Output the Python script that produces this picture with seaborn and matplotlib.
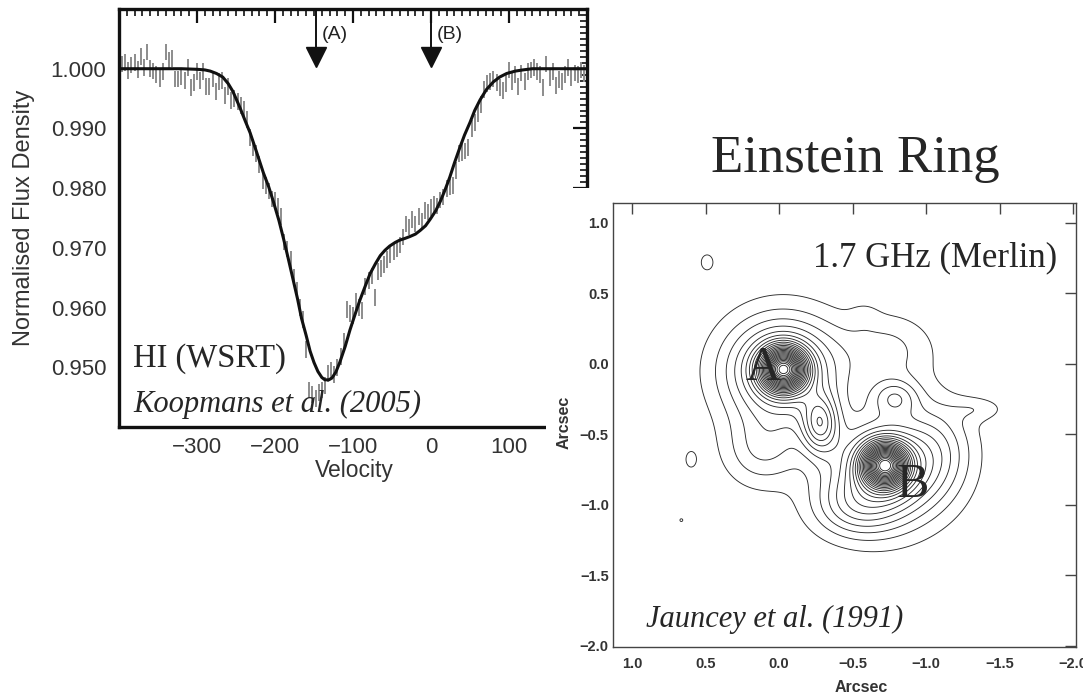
import numpy as np
import pandas as pd
import matplotlib
matplotlib.use("Agg")
import matplotlib.pyplot as plt
import seaborn as sns
from matplotlib.patches import Rectangle
from matplotlib.ticker import MultipleLocator, FormatStrFormatter, FuncFormatter

# ---------------- HI absorption spectrum (Koopmans et al. 2005) ----------------
velocity = [-396, -392, -388, -384, -380, -376, -372, -368, -364, -360,
            -356, -352, -348, -344, -340, -336, -332, -328, -324, -320,
            -316, -312, -308, -304, -300, -296, -292, -288, -284, -280,
            -276, -272, -268, -264, -260, -256, -252, -248, -244, -240,
            -236, -232, -228, -224, -220, -216, -212, -208, -204, -200,
            -196, -192, -188, -184, -180, -176, -172, -168, -164, -160,
            -156, -152, -148, -144, -140, -136, -132, -128, -124, -120,
            -116, -112, -108, -104, -100, -96, -92, -88, -84, -80,
            -76, -72, -68, -64, -60, -56, -52, -48, -44, -40,
            -36, -32, -28, -24, -20, -16, -12, -8, -4, 0,
            4, 8, 12, 16, 20, 24, 28, 32, 36, 40,
            44, 48, 52, 56, 60, 64, 68, 72, 76, 80,
            84, 88, 92, 96, 100, 104, 108, 112, 116, 120,
            124, 128, 132, 136, 140, 144, 148, 152, 156, 160,
            164, 168, 172, 176, 180, 184, 188, 192, 196]
flux = [1.0008, 1.0010, 0.9997, 1.0006, 1.0010, 0.9999, 1.0020, 1.0002, 1.0028, 1.0000,
        0.9996, 0.9990, 0.9984, 0.9995, 1.0028, 1.0014, 1.0017, 0.9983, 0.9983, 0.9986,
        0.9980, 1.0002, 0.9968, 0.9977, 0.9995, 0.9980, 0.9995, 0.9970, 0.9970, 0.9983,
        0.9962, 0.9978, 0.9980, 0.9955, 0.9970, 0.9947, 0.9950, 0.9945, 0.9938, 0.9932,
        0.9915, 0.9885, 0.9868, 0.9858, 0.9840, 0.9812, 0.9805, 0.9795, 0.9782, 0.9780,
        0.9770, 0.9752, 0.9710, 0.9698, 0.9680, 0.9650, 0.9628, 0.9600, 0.9580, 0.9530,
        0.9462, 0.9455, 0.9448, 0.9458, 0.9462, 0.9470, 0.9490, 0.9495, 0.9488, 0.9500,
        0.9518, 0.9543, 0.9597, 0.9590, 0.9587, 0.9610, 0.9600, 0.9595, 0.9635, 0.9645,
        0.9653, 0.9617, 0.9660, 0.9665, 0.9672, 0.9680, 0.9688, 0.9693, 0.9698, 0.9705,
        0.9718, 0.9740, 0.9735, 0.9748, 0.9740, 0.9753, 0.9745, 0.9762, 0.9760, 0.9768,
        0.9773, 0.9770, 0.9780, 0.9785, 0.9800, 0.9802, 0.9805, 0.9830, 0.9858, 0.9860,
        0.9862, 0.9868, 0.9900, 0.9910, 0.9925, 0.9940, 0.9965, 0.9975, 0.9978, 0.9983,
        0.9977, 0.9968, 0.9963, 0.9975, 0.9998, 0.9979, 0.9990, 0.9970, 0.9993, 0.9979,
        0.9995, 0.9998, 1.0002, 0.9995, 0.9990, 0.9968, 1.0008, 0.9985, 0.9995, 0.9972,
        0.9982, 0.9979, 0.9990, 1.0002, 0.9985, 0.9993, 0.9990, 0.9998, 0.9992]
flux_err = 0.0014

model_velocity = [-400, -340, -320, -300, -290, -283, -275, -267, -260, -254, -245, -238,
                  -232, -224, -215, -208, -202, -195, -189, -183, -177, -171, -166, -160,
                  -155, -150, -145, -140, -136, -131, -127, -122, -117, -110, -104, -97,
                  -91, -84, -78, -71, -65, -59, -53, -46, -40, -33, -27, -20, -14, -7, -1,
                  6, 12, 18, 24, 30, 37, 43, 50, 56, 63, 71, 80, 88, 97, 108, 118, 130, 140, 200]
model_flux = [1.0000, 1.0000, 1.0000, 0.9999, 0.9998, 0.9996, 0.9992, 0.9986, 0.9975, 0.9962,
              0.9935, 0.9912, 0.9893, 0.9862, 0.9826, 0.9802, 0.9777, 0.9746, 0.9715, 0.9682,
              0.9648, 0.9614, 0.9582, 0.9553, 0.9527, 0.9508, 0.9493, 0.9483, 0.9479, 0.9479,
              0.9482, 0.9492, 0.9508, 0.9535, 0.9562, 0.9590, 0.9613, 0.9637, 0.9657, 0.9674,
              0.9687, 0.9696, 0.9703, 0.9709, 0.9713, 0.9716, 0.9719, 0.9723, 0.9729, 0.9737,
              0.9748, 0.9762, 0.9778, 0.9797, 0.9818, 0.9842, 0.9868, 0.9889, 0.9910, 0.9930,
              0.9948, 0.9965, 0.9978, 0.9986, 0.9992, 0.9996, 0.9998, 1.0000, 1.0000, 1.0000]

arrow_velocity = [-148, 0]
arrow_labels = ["(A)", "(B)"]
velocity_ticks = [-300, -200, -100, 0, 100]
flux_ticks = [0.950, 0.960, 0.970, 0.980, 0.990, 1.000]

# ---------------- 1.7 GHz MERLIN map (Jauncey et al. 1991) ----------------
# emission components: centre (arcsec), amplitude, widths (arcsec), position angle (deg)
src_x = [-0.03, -0.72, -0.02, -0.73, -0.28, -0.79, 0.12, -0.75, -1.08, -0.50, -0.58, -1.36, -0.42, 0.49, 0.60, 0.665]
src_y = [-0.04, -0.72, -0.05, -0.76, -0.43, -0.24, -0.62, 0.10, -0.60, -1.02, 0.34, -0.32, -0.42, 0.72, -0.68, -1.11]
src_amp = [20.0, 20.0, 7.5, 7.5, 6.0, 3.2, 2.5, 2.0, 2.4, 2.8, 0.55, 1.3, 0.6, 1.4, 1.4, 1.15]
src_sx = [0.10, 0.10, 0.27, 0.26, 0.085, 0.11, 0.18, 0.22, 0.18, 0.20, 0.07, 0.13, 0.60, 0.045, 0.035, 0.018]
src_sy = [0.10, 0.10, 0.26, 0.26, 0.14, 0.09, 0.18, 0.18, 0.24, 0.15, 0.07, 0.06, 0.45, 0.06, 0.055, 0.018]
src_theta = [0, 0, 0, 0, 0, 0, 0, 0, 0, 0, 0, 0, 45, 0, 0, 0]
contour_levels = [1, 2, 3, 4, 5, 6, 7, 8, 9, 10, 11, 12, 13, 14, 15, 16, 17, 18, 19, 20,
                  21, 22, 23, 24, 25, 26, 27]
arcsec_ticks = [1.0, 0.5, 0.0, -0.5, -1.0, -1.5, -2.0]

# ---------------- figure ----------------
W, H = 1083, 696
sns.set_theme(style="white")
plt.rcParams['font.family'] = ['Liberation Sans', 'DejaVu Sans']
plt.rcParams['axes.unicode_minus'] = True

fig = plt.figure(figsize=(W / 100, H / 100), dpi=100)
fig.patch.set_facecolor('white')


def fx(px):
    return px / W


def fy(py):
    return 1 - py / H


# ---- left panel ----
ax1 = fig.add_axes([fx(119), fy(427), (587 - 119) / W, (427 - 9) / H])
ax1.set_zorder(0)
ax1.set_facecolor('white')

ax1.errorbar(velocity, flux, yerr=flux_err, fmt='none', ecolor='#8c8c8c',
             elinewidth=1.4, capsize=0, zorder=2)
model_df = pd.DataFrame({'velocity': model_velocity, 'flux': model_flux})
sns.lineplot(data=model_df, x='velocity', y='flux', ax=ax1, color='#111111',
             linewidth=2.2, zorder=3)

for v, lab in zip(arrow_velocity, arrow_labels):
    ax1.plot([v, v], [1.0100, 1.0030], color='#111111', lw=1.4, zorder=4)
    ax1.plot([v], [1.0019], marker='v', ms=14, color='#111111', zorder=4, clip_on=False)
    ax1.text(v + 8, 1.0058, lab, fontsize=14, color='#222222', ha='left', va='center')

ax1.set_xlim(-400, 200)
ax1.set_ylim(0.940, 1.010)
ax1.set_xticks(velocity_ticks)
ax1.set_yticks(flux_ticks)
ax1.yaxis.set_major_formatter(FormatStrFormatter('%.3f'))
ax1.xaxis.set_minor_locator(MultipleLocator(10))
ax1.yaxis.set_minor_locator(MultipleLocator(0.001))
ax1.tick_params(which='both', direction='in', top=True, right=True, colors='#111111')
ax1.tick_params(which='major', length=10, width=1.6, labelsize=16, labelcolor='#333333')
ax1.tick_params(axis='x', pad=7)
ax1.tick_params(axis='y', pad=9)
ax1.tick_params(which='minor', length=5, width=1.2)
for s in ax1.spines.values():
    s.set_linewidth(2.4)
    s.set_color('#111111')
ax1.set_xlabel('Velocity', fontsize=16.5, color='#333333')
ax1.set_ylabel('Normalised Flux Density', fontsize=17, color='#333333')
ax1.xaxis.set_label_coords((354 - 119) / 468, (427 - 459) / 418)
ax1.yaxis.set_label_coords((35 - 119) / 468, (427 - 218) / 418)

# ---- white cover for the inset picture ----
cover = Rectangle((fx(546), 0), 1 - fx(546), fy(188), transform=fig.transFigure,
                  facecolor='white', edgecolor='none', zorder=1)
fig.add_artist(cover)

# ---- right panel: contour map ----
ax2 = fig.add_axes([fx(613), fy(647), (1076 - 613) / W, (647 - 203) / H])
ax2.set_zorder(2)
ax2.set_facecolor('white')

gx = np.linspace(-2.1, 1.2, 700)
gy = np.linspace(-2.1, 1.2, 700)
X, Y = np.meshgrid(gx, gy)
Z = np.zeros_like(X)
for x0, y0, a, sx, sy, th in zip(src_x, src_y, src_amp, src_sx, src_sy, src_theta):
    t = np.deg2rad(th)
    dx, dy = X - x0, Y - y0
    u = dx * np.cos(t) + dy * np.sin(t)
    w = -dx * np.sin(t) + dy * np.cos(t)
    Z += a * np.exp(-0.5 * ((u / sx) ** 2 + (w / sy) ** 2))

ax2.contour(X, Y, Z, levels=contour_levels, colors='#2b2b2b', linewidths=0.65)
ax2.set_xlim(1.13, -2.02)
ax2.set_ylim(-2.01, 1.14)
ax2.set_xticks(arcsec_ticks)
ax2.set_yticks(arcsec_ticks)
minus_fmt = FuncFormatter(lambda v, p: ('%.1f' % v).replace('-', '\u2212'))
ax2.xaxis.set_major_formatter(minus_fmt)
ax2.yaxis.set_major_formatter(minus_fmt)
ax2.tick_params(which='major', direction='in', top=True, right=True, length=8, width=1.0,
                colors='#444444', labelsize=10.5, labelcolor='#333333')
ax2.tick_params(axis='x', pad=7)
ax2.tick_params(axis='y', pad=3)
for lab in ax2.get_xticklabels() + ax2.get_yticklabels():
    lab.set_fontweight('bold')
for s in ax2.spines.values():
    s.set_linewidth(1.0)
    s.set_color('#444444')
ax2.set_xlabel('Arcsec', fontsize=11.5, fontweight='bold', color='#333333')
ax2.set_ylabel('Arcsec', fontsize=11.5, fontweight='bold', color='#333333')
ax2.xaxis.set_label_coords((861 - 613) / 463, (647 - 680) / 444)
ax2.yaxis.set_label_coords((572 - 613) / 463, 0.505)

# ---- annotations ----
serif = ['Liberation Serif', 'DejaVu Serif']
fig.text(fx(133), fy(367), 'HI (WSRT)', family=serif, fontsize=23.5, va='baseline', ha='left', zorder=5)
fig.text(fx(133), fy(412), 'Koopmans et al. (2005)', family=serif, style='italic', fontsize=22,
         va='baseline', ha='left', zorder=5)
fig.text(fx(855), fy(172), 'Einstein Ring', family=serif, fontsize=38, va='baseline', ha='center', zorder=5)
fig.text(fx(813), fy(266), '1.7 GHz (Merlin)', family=serif, fontsize=25, va='baseline', ha='left', zorder=5)
fig.text(fx(745), fy(380), 'A', family=serif, fontsize=35, va='baseline', ha='left', zorder=5)
fig.text(fx(897), fy(497), 'B', family=serif, fontsize=35, va='baseline', ha='left', zorder=5)
fig.text(fx(646), fy(627), 'Jauncey et al. (1991)', family=serif, style='italic', fontsize=22,
         va='baseline', ha='left', zorder=5)

fig.savefig('out.png', dpi=100, facecolor='white')
